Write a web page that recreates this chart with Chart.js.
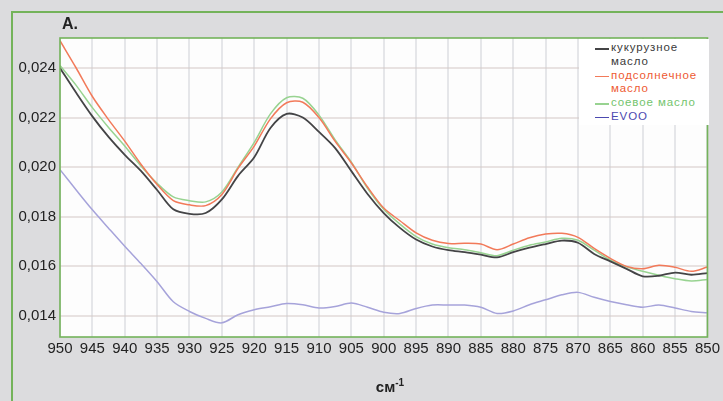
<!DOCTYPE html>
<html>
<head>
<meta charset="utf-8">
<script src="https://cdn.jsdelivr.net/npm/chart.js@4.4.1/dist/chart.umd.min.js"></script>
<style>
  html, body { margin: 0; padding: 0; width: 723px; height: 401px; overflow: hidden; background: #dcdcde; font-family: "Liberation Sans", Arial, sans-serif; color: #222; }
  #frame { position: absolute; left: 11px; top: 11px; width: 730px; height: 410px; border: 2px solid #74b35a; }
  #chart { position: absolute; left: 0; top: 0; }
  #panel { position: absolute; left: 62px; top: 15px; font-weight: bold; font-size: 16px; }
  #xTitle { position: absolute; left: 60px; width: 660px; top: 375px; text-align: center; font-weight: bold; font-size: 15px; line-height: 15px; }
  #xTitle sup { font-size: 10px; vertical-align: 6px; }
  #legend { position: absolute; left: 579px; top: 39px; width: 130px; height: 84px; background: #fff; padding-top: 2px; }
  .item { display: flex; align-items: flex-start; font-size: 11.5px; line-height: 13.8px; letter-spacing: 0.9px; }
  .swatch { width: 14px; height: 1.5px; margin: 7px 2px 0 16px; flex: none; }
</style>
</head>
<body>
<div id="frame"></div>
<canvas id="chart" width="723" height="401"></canvas>
<div id="panel">A.</div>
<div id="xTitle">см<sup>-1</sup></div>
<div id="legend"></div>
<script>
const wavenumbers = [950, 947.5, 945, 942.5, 940, 937.5, 935, 932.5, 930, 927.5, 925, 922.5, 920, 917.5, 915, 912.5, 910, 907.5, 905, 902.5, 900,
  897.5, 895, 892.5, 890, 887.5, 885, 882.5, 880, 877.5, 875, 872.5, 870, 867.5, 865, 862.5, 860, 857.5, 855, 852.5, 850];

const corn = [0.02400, 0.02300, 0.02205, 0.02122, 0.02050, 0.01985, 0.01908, 0.01830, 0.01812, 0.01815, 0.01870, 0.01965, 0.02040, 0.02158, 0.02215, 0.02200, 0.02142, 0.02077, 0.01984, 0.01892, 0.01815,
  0.01755, 0.01708, 0.01680, 0.01665, 0.01657, 0.01647, 0.01636, 0.01657, 0.01675, 0.01690, 0.01704, 0.01695, 0.01650, 0.01620, 0.01590, 0.01560, 0.01562, 0.01575, 0.01566, 0.01573];
const sunflower = [0.02510, 0.02400, 0.02285, 0.02192, 0.02105, 0.02012, 0.01930, 0.01865, 0.01848, 0.01845, 0.01890, 0.01995, 0.02085, 0.02195, 0.02260, 0.02262, 0.02200, 0.02104, 0.02017, 0.01920, 0.01835,
  0.01784, 0.01735, 0.01705, 0.01692, 0.01693, 0.01690, 0.01667, 0.01690, 0.01715, 0.01730, 0.01733, 0.01717, 0.01672, 0.01632, 0.01600, 0.01590, 0.01604, 0.01596, 0.01580, 0.01597];
const soy = [0.02410, 0.02330, 0.02240, 0.02160, 0.02085, 0.02005, 0.01935, 0.01880, 0.01865, 0.01860, 0.01900, 0.02000, 0.02100, 0.02215, 0.02280, 0.02278, 0.02210, 0.02110, 0.02020, 0.01915, 0.01830,
  0.01770, 0.01720, 0.01690, 0.01675, 0.01667, 0.01655, 0.01643, 0.01665, 0.01685, 0.01698, 0.01713, 0.01705, 0.01665, 0.01625, 0.01598, 0.01580, 0.01564, 0.01550, 0.01541, 0.01547];
const evoo = [0.01990, 0.01908, 0.01828, 0.01754, 0.01681, 0.01611, 0.01538, 0.01457, 0.01418, 0.01390, 0.01372, 0.01405, 0.01425, 0.01437, 0.01450, 0.01445, 0.01432, 0.01438, 0.01452, 0.01435, 0.01415,
  0.01410, 0.01430, 0.01444, 0.01444, 0.01444, 0.01435, 0.01410, 0.01420, 0.01445, 0.01465, 0.01485, 0.01495, 0.01475, 0.01458, 0.01445, 0.01435, 0.01444, 0.01432, 0.01418, 0.01413];

const seriesNames = [['кукурузное', 'масло'], ['подсолнечное', 'масло'], ['соевое масло'], ['EVOO']];
const seriesData = [corn, sunflower, soy, evoo];
const lineColors = ['#444446', '#f27a5a', '#98d391', '#a6a3da'];
const legendColors = ['#3a3a3a', '#ee5a32', '#74c46e', '#4b49b0'];
const lineWidths = [1.8, 1.5, 1.5, 1.5];

const xTicks = [950, 945, 940, 935, 930, 925, 920, 915, 910, 905, 900, 895, 890, 885, 880, 875, 870, 865, 860, 855, 850];
const yTicks = [0.014, 0.016, 0.018, 0.020, 0.022, 0.024];

const plotFrame = {
  id: 'plotFrame',
  beforeDraw(chart) {
    const { ctx, chartArea: a } = chart;
    ctx.save();
    ctx.fillStyle = '#fdfdfd';
    ctx.fillRect(a.left, a.top, a.right - a.left, a.bottom - a.top);
    ctx.restore();
  },
  afterDatasetsDraw(chart) {
    const { ctx, chartArea: a } = chart;
    ctx.save();
    ctx.strokeStyle = '#74b35a';
    ctx.lineWidth = 1.6;
    ctx.strokeRect(a.left, a.top, a.right - a.left, a.bottom - a.top);
    ctx.restore();
  },
};

const font = { family: '"Liberation Sans", Arial, sans-serif', size: 15 };

new Chart(document.getElementById('chart'), {
  type: 'line',
  data: {
    datasets: seriesData.map((values, i) => ({
      label: seriesNames[i].join(' '),
      data: values.map((v, j) => ({ x: wavenumbers[j], y: v })),
      borderColor: lineColors[i],
      borderWidth: lineWidths[i],
      pointRadius: 0,
      tension: 0.3,
      fill: false,
    })),
  },
  options: {
    responsive: false,
    animation: false,
    layout: { padding: { top: 38, right: 13 } },
    plugins: { legend: { display: false }, tooltip: { enabled: false } },
    scales: {
      x: {
        type: 'linear',
        reverse: true,
        min: 850,
        max: 950,
        afterBuildTicks: (axis) => { axis.ticks = xTicks.map((v) => ({ value: v })); },
        afterFit: (axis) => { axis.height = 64; },
        ticks: { font, color: '#222', padding: 3, maxRotation: 0, autoSkip: false, callback: (v) => String(v) },
        grid: { color: 'rgba(205,208,214,0.5)', lineWidth: 2, drawTicks: false },
        border: { display: false },
      },
      y: {
        min: 0.01315,
        max: 0.02521,
        afterBuildTicks: (axis) => { axis.ticks = yTicks.map((v) => ({ value: v })); },
        afterFit: (axis) => { axis.width = 60; },
        ticks: { font, color: '#222', padding: 4, callback: (v) => v.toFixed(3).replace('.', ',') },
        grid: { color: 'rgba(212,200,198,0.5)', lineWidth: 2, drawTicks: false },
        border: { display: false },
      },
    },
  },
  plugins: [plotFrame],
});

const legend = document.getElementById('legend');
seriesNames.forEach((lines, i) => {
  const item = document.createElement('div');
  item.className = 'item';
  const swatch = document.createElement('span');
  swatch.className = 'swatch';
  swatch.style.background = i === 3 ? legendColors[i] : lineColors[i];
  const text = document.createElement('span');
  text.style.color = legendColors[i];
  text.innerHTML = lines.join('<br>');
  item.appendChild(swatch);
  item.appendChild(text);
  legend.appendChild(item);
});
</script>
</body>
</html>
